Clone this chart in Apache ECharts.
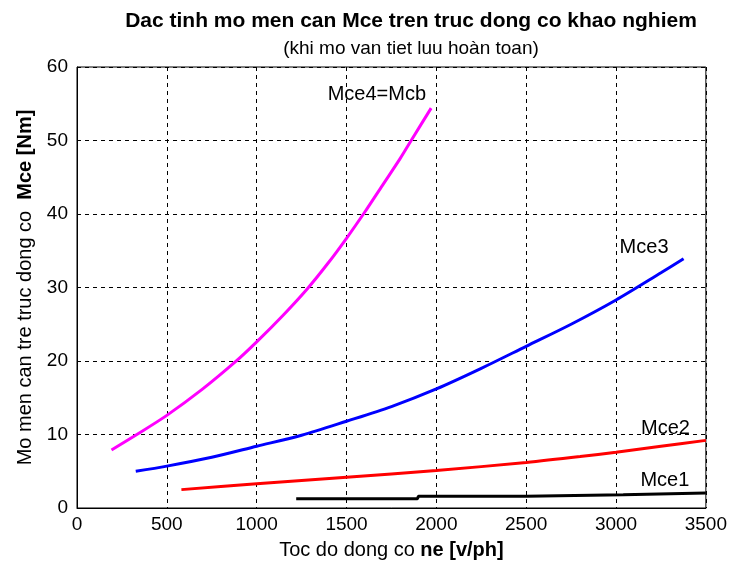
<!DOCTYPE html>
<html>
<head>
<meta charset="utf-8">
<script src="https://cdn.jsdelivr.net/npm/echarts@6/dist/echarts.min.js"></script>
<style>
  html, body { margin: 0; padding: 0; background: #fff; }
  #chart { width: 730px; height: 568px; }
</style>
</head>
<body>
<div id="chart"></div>
<script>
// engine speed [v/ph] and torque [Nm]
const mce4Rpm = [192, 333, 500, 700, 882, 1000, 1150, 1281, 1400, 1500, 1600, 1700, 1800, 1865, 1971];
const mce4Nm = [7.9, 10, 12.6, 16.2, 19.9, 22.6, 26.3, 29.8, 33.4, 36.7, 40.2, 43.9, 47.6, 50.2, 54.4];

const mce3Rpm = [327, 500, 750, 1000, 1250, 1500, 1750, 2000, 2250, 2500, 2750, 3000, 3250, 3376];
const mce3Nm = [5.0, 5.7, 6.9, 8.4, 9.9, 11.8, 13.8, 16.2, 19.0, 22.0, 25.0, 28.3, 32.0, 33.9];

const mce2Rpm = [581, 1000, 1500, 2000, 2500, 2800, 3000, 3250, 3500];
const mce2Nm = [2.5, 3.3, 4.2, 5.1, 6.2, 7.0, 7.6, 8.4, 9.2];

const mce1Rpm = [1220, 1895, 1900, 2500, 2505, 3040, 3045, 3500];
const mce1Nm = [1.25, 1.25, 1.6, 1.6, 1.8, 1.8, 2.05, 2.05];

const zip = (xs, ys) => xs.map((x, i) => [x, ys[i]]);

const chart = echarts.init(document.getElementById("chart"));

const font = "Liberation Sans, Arial, sans-serif";

function curve(name, rpm, nm, color, smooth, labelAt) {
    return {
        name: name,
        type: "line",
        data: zip(rpm, nm),
        showSymbol: false,
        smooth: smooth,
        lineStyle: { color: color, width: 3 },
        itemStyle: { color: color },
        silent: true,
        markPoint: {
            symbol: "circle",
            symbolSize: 0,
            silent: true,
            label: {
                show: true,
                position: "inside",
                formatter: name,
                color: "#000",
                fontFamily: font,
                fontSize: 20,
            },
            data: [{ coord: labelAt }],
        },
    };
}

const options = {
    backgroundColor: "#fff",
    animation: false,
    title: {
        text: "Dac tinh mo men can Mce tren truc dong co khao nghiem",
        subtext: "(khi mo van tiet luu hoàn toan)",
        left: 406,
        textAlign: "center",
        top: 6,
        itemGap: 7,
        textStyle: { fontFamily: font, fontSize: 21, fontWeight: "bold", color: "#000" },
        subtextStyle: { fontFamily: font, fontSize: 19, color: "#000" },
    },
    grid: {
        left: 77,
        right: 22,
        top: 67,
        bottom: 60,
        show: true,
        borderColor: "#000",
        borderWidth: 1,
        backgroundColor: "#fff",
    },
    xAxis: {
        type: "value",
        min: 0,
        max: 3500,
        interval: 500,
        name: "{n|Toc do dong co }{b|ne [v/ph]}",
        nameLocation: "middle",
        nameGap: 32,
        nameTextStyle: {
            rich: {
                n: { fontFamily: font, fontSize: 20, color: "#000" },
                b: { fontFamily: font, fontSize: 20, color: "#000", fontWeight: "bold" },
            },
        },
        axisLine: { show: true, lineStyle: { color: "#000" } },
        axisTick: { show: false },
        axisLabel: { fontFamily: font, fontSize: 19, color: "#000", margin: 7, formatter: (v) => String(v) },
        splitLine: { show: true, lineStyle: { color: "#000", type: [4, 4], width: 1 } },
    },
    yAxis: {
        type: "value",
        min: 0,
        max: 60,
        interval: 10,
        name: "{n|Mo men can tre truc dong co  }{b|Mce [Nm]}",
        nameLocation: "middle",
        nameGap: 40,
        nameRotate: 90,
        nameTextStyle: {
            rich: {
                n: { fontFamily: font, fontSize: 20, color: "#000" },
                b: { fontFamily: font, fontSize: 20, color: "#000", fontWeight: "bold" },
            },
        },
        axisLine: { show: true, lineStyle: { color: "#000" } },
        axisTick: { show: false },
        axisLabel: { fontFamily: font, fontSize: 19, color: "#000", margin: 9 },
        splitLine: { show: true, lineStyle: { color: "#000", type: [4, 4], width: 1 } },
    },
    series: [
        curve("Mce4=Mcb", mce4Rpm, mce4Nm, "#ff00ff", 0.3, [1669, 56.2]),
        curve("Mce3", mce3Rpm, mce3Nm, "#0000ff", 0.3, [3156, 35.4]),
        curve("Mce2", mce2Rpm, mce2Nm, "#ff0000", 0.3, [3275, 10.8]),
        curve("Mce1", mce1Rpm, mce1Nm, "#000000", false, [3272, 3.7]),
    ],
};

chart.setOption(options);
</script>
</body>
</html>
